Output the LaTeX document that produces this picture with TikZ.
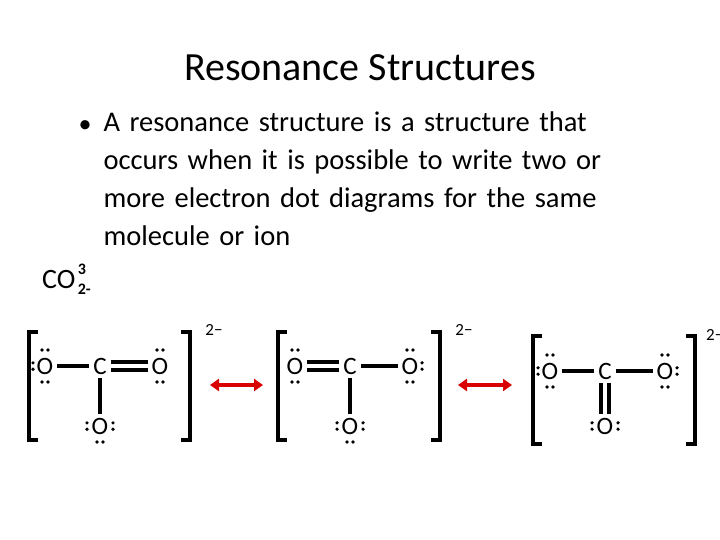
\documentclass[tikz,border=0pt]{standalone}
\usepackage{fontspec}
\setmainfont{Carlito}
\newfontfamily\hand{DejaVu Sans}
\usetikzlibrary{arrows.meta}
\begin{document}
\begin{tikzpicture}[x=1pt,y=-1pt,
  atom/.style={font=\fontsize{25}{25}\selectfont, inner sep=1pt},
  bond/.style={line width=3.6pt, shorten <=3pt, shorten >=3pt},
  brk/.style={line width=4.5pt},
  chg/.style={font=\fontsize{17}{17}\selectfont},
  res/.style={red!85!black, line width=3.5pt, {Triangle[width=12pt,length=9pt]}-{Triangle[width=12pt,length=9pt]}}]
\useasboundingbox (0,0) rectangle (720,540);
\newcommand\dd[3]{\fill (#1)++(#2-3,#3) circle (1.8) (#1)++(#2+3,#3) circle (1.8);}
\newcommand\dv[3]{\fill (#1)++(#2,#3-3.2) circle (1.8) (#1)++(#2,#3+3.2) circle (1.8);}
\node[font=\fontsize{40}{44}\selectfont] (title) at (360,68) {Resonance Structures};
\node[font=\fontsize{28.5}{38}\selectfont, anchor=north west, align=left, text width=560] (txt) at (100,108)
 {A resonance structure is a structure that\\ occurs when it is possible to write two or\\ more electron dot diagrams for the same\\ molecule or ion};
\node[font=\fontsize{26}{26}\selectfont, anchor=east] (bul) at (95,127) {•};
\node[font=\fontsize{28}{28}\selectfont, anchor=west, inner sep=0] (co) at (42,280) {CO};
\node[font=\bfseries\fontsize{16}{16}\selectfont, anchor=west, inner sep=0] (cos) at ([xshift=2pt,yshift=-9pt]co.east) {2-};
\node[font=\bfseries\fontsize{16}{16}\selectfont, anchor=west, inner sep=0] (coi) at ([xshift=2pt,yshift=11pt]co.east) {3};
% structure 1
\node[atom] (a1) at (45,366) {O}; \node[atom] (c1) at (100,366) {C};
\node[atom] (b1) at (160,366) {O}; \node[atom] (d1) at (100,426) {O};
\draw[bond] (a1) -- (c1);
\draw[bond] ([yshift=-4]c1.east) -- ([yshift=-4]b1.west); \draw[bond] ([yshift=4]c1.east) -- ([yshift=4]b1.west);
\draw[bond] (c1) -- (d1);
\dd{a1}{0}{-16}\dd{a1}{0}{16}\dv{a1}{-12}{0}
\dd{b1}{0}{-16}\dd{b1}{0}{16}
\dv{d1}{-13}{0}\dv{d1}{13}{0}\dd{d1}{0}{16}
\draw[brk] (38,332) -- (29,332) -- (29,440) -- (38,440);
\draw[brk] (181,332) -- (190,332) -- (190,440) -- (181,440);
\node[chg] (q1) at (214,330) {2−};
% structure 2
\node[atom] (a2) at (295,366) {O}; \node[atom] (c2) at (350,366) {C};
\node[atom] (b2) at (410,366) {O}; \node[atom] (d2) at (350,426) {O};
\draw[bond] ([yshift=-4]a2.east) -- ([yshift=-4]c2.west); \draw[bond] ([yshift=4]a2.east) -- ([yshift=4]c2.west);
\draw[bond] (c2) -- (b2);
\draw[bond] (c2) -- (d2);
\dd{a2}{0}{-16}\dd{a2}{0}{16}
\dd{b2}{0}{-16}\dd{b2}{0}{16}\dv{b2}{12}{0}
\dv{d2}{-13}{0}\dv{d2}{13}{0}\dd{d2}{0}{16}
\draw[brk] (287,332) -- (278,332) -- (278,440) -- (287,440);
\draw[brk] (431,332) -- (440,332) -- (440,440) -- (431,440);
\node[chg] (q2) at (464,330) {2−};
% structure 3
\node[atom] (a3) at (550,371) {O}; \node[atom] (c3) at (605,371) {C};
\node[atom] (b3) at (665,371) {O}; \node[atom] (d3) at (605,426) {O};
\draw[bond] (a3) -- (c3); \draw[bond] (c3) -- (b3);
\draw[bond] ([xshift=-4]c3.south) -- ([xshift=-4]d3.north); \draw[bond] ([xshift=4]c3.south) -- ([xshift=4]d3.north);
\dd{a3}{0}{-16}\dd{a3}{0}{16}\dv{a3}{-12}{0}
\dd{b3}{0}{-16}\dd{b3}{0}{16}\dv{b3}{12}{0}
\dv{d3}{-13}{0}\dv{d3}{13}{0}
\draw[brk] (542,336) -- (533,336) -- (533,444) -- (542,444);
\draw[brk] (686,336) -- (695,336) -- (695,444) -- (686,444);
\node[chg, anchor=west, inner sep=0] (q3) at (706,335) {2−};
% arrows
\coordinate (r1a) at (210,385); \coordinate (r1b) at (263,385);
\coordinate (r2a) at (458,385); \coordinate (r2b) at (512,385);
\draw[res] (r1a) -- (r1b); \draw[res] (r2a) -- (r2b);
\end{tikzpicture}
\end{document}
